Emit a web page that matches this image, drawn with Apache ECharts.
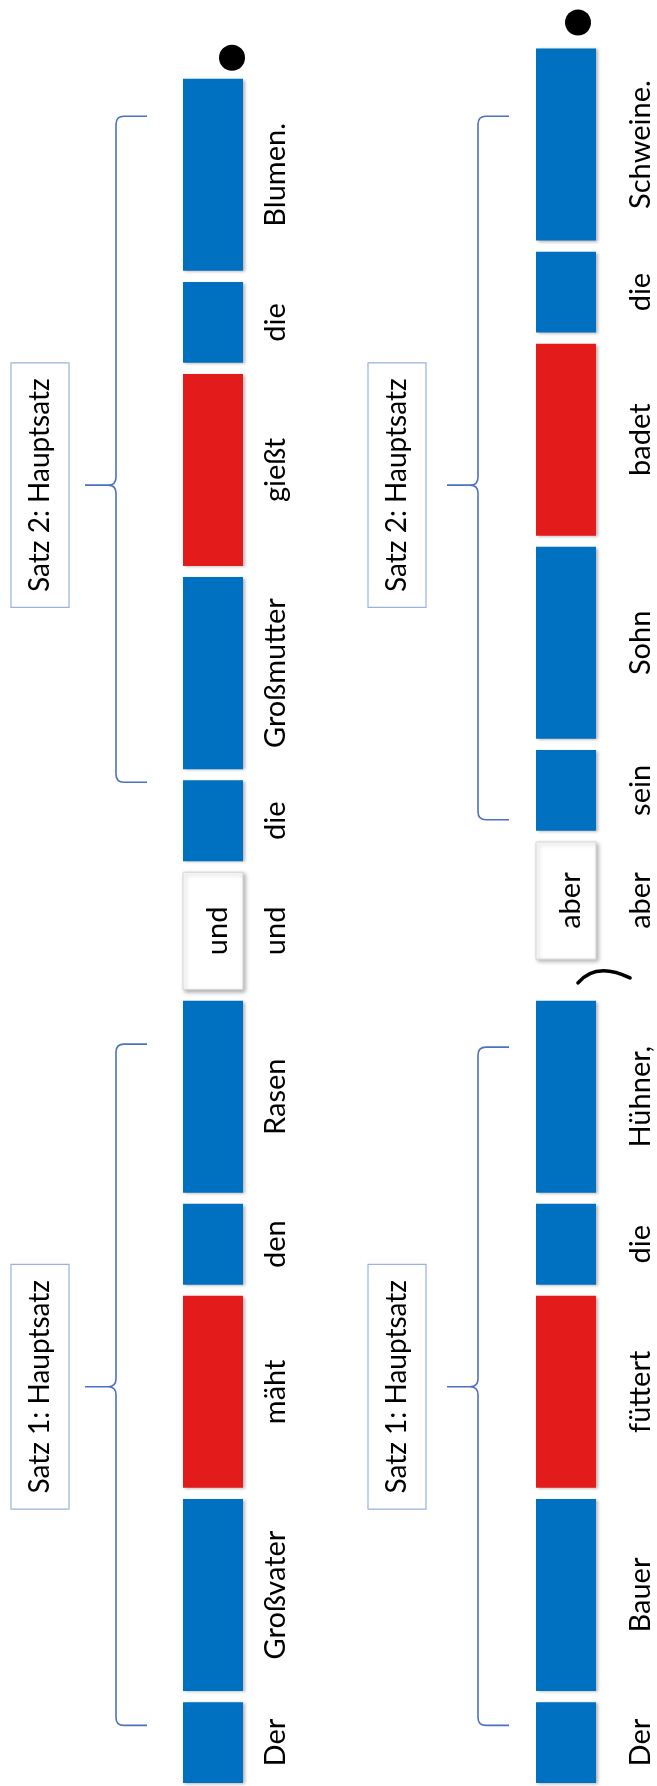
<!DOCTYPE html>
<html><head><meta charset="utf-8">
<script src="https://cdn.jsdelivr.net/npm/echarts@6/dist/echarts.min.js"></script>
<style>html,body{margin:0;padding:0;background:#fff}#c{width:657px;height:1786px}</style>
</head><body><div id="c"></div>
<script>
// ---------- data ----------
const columns = ['Beispiel 1', 'Beispiel 2'];
const words1 = ['Der', 'Großvater', 'mäht', 'den', 'Rasen', 'und', 'die', 'Großmutter', 'gießt', 'die', 'Blumen.'];
const kinds1 = ['A', 'N', 'V', 'A', 'N', 'K', 'A', 'N', 'V', 'A', 'N'];
const lens1 = [8, 19, 19, 8, 19, 11.6, 8, 19, 19, 8, 19];
const pauses1 = [0, 0, 0, 0, 0, 0, 0, 0, 0, 0, 0];
const words2 = ['Der', 'Bauer', 'füttert', 'die', 'Hühner,', 'aber', 'sein', 'Sohn', 'badet', 'die', 'Schweine.'];
const kinds2 = ['A', 'N', 'V', 'A', 'N', 'K', 'A', 'N', 'V', 'A', 'N'];
const lens2 = [8, 19, 19, 8, 19, 11.6, 8, 19, 19, 8, 19];
const pauses2 = [0, 0, 0, 0, 3, 0, 0, 0, 0, 0, 0];
const clauseTitles = ['Satz 1: Hauptsatz', 'Satz 2: Hauptsatz'];
const clauses1 = [[5.7, 73.1, 39.2], [99.0, 164.9, 128.4]];
const clauses2 = [[5.7, 72.8, 39.2], [95.3, 164.9, 128.4]];

// ---------- style ----------
const GAP = 1.1;
const BLUE = '#0070C0', RED = '#E31B1B';
const FONT = '29px Lato';
const TITLE_FONT = '28px Lato';
const BAR_W = 60;
const LABEL_OFF = [63, 75];
const BRACE_OFF = [-97, -88];
const BOX_OFF = [-173, -169];
const BOX_W = 58, BOX_H = 24.2;
const DOT_OFF = [[19, 21], [12, 26]];
const WORDS = [words1, words2], KINDS = [kinds1, kinds2];

function place(col, lens, pauses) {
  const out = []; let p = 0;
  lens.forEach((L, i) => { out.push([col, p, p + L, i]); p += L + GAP + pauses[i]; });
  return out;
}
const pos = [place(0, lens1, pauses1), place(1, lens2, pauses2)];
const PAUSES = [pauses1, pauses2];

function txt(x, y, text, font) {
  return {
    type: 'text', x: x, y: y, rotation: Math.PI / 2,
    style: { text: text, fill: '#000', font: font || FONT, align: 'center', verticalAlign: 'middle',
             textAlign: 'center', textVerticalAlign: 'middle' }
  };
}

function wordItem(params, api) {
  const col = api.value(0), s = api.value(1), e = api.value(2), i = api.value(3);
  const a = api.coord([col, s]), b = api.coord([col, e]);
  const cx = a[0], y0 = b[1], h = a[1] - b[1];
  const kind = KINDS[col][i];
  const children = [];
  if (kind === 'K') {
    children.push({ type: 'rect', shape: { x: cx - BAR_W / 2, y: y0, width: BAR_W, height: h },
      style: { fill: '#fff', stroke: '#d6d6d6', lineWidth: 1, shadowBlur: 4, shadowColor: 'rgba(0,0,0,0.3)', shadowOffsetX: 2, shadowOffsetY: 2 } });
    children.push(txt(cx + 5, y0 + h / 2, WORDS[col][i]));
  } else {
    children.push({ type: 'rect', shape: { x: cx - BAR_W / 2, y: y0, width: BAR_W, height: h },
      style: { fill: kind === 'V' ? RED : BLUE, shadowBlur: 3, shadowColor: 'rgba(0,0,0,0.3)', shadowOffsetX: 2, shadowOffsetY: 1 } });
  }
  children.push(txt(cx + LABEL_OFF[col], y0 + h / 2, WORDS[col][i]));
  return { type: 'group', children: children };
}

const braceData = [];
[clauses1, clauses2].forEach((cl, col) => cl.forEach((c, k) => braceData.push([col, c[0], c[1], c[2], k])));

function braceItem(params, api) {
  const col = api.value(0), from = api.value(1), to = api.value(2), cusp = api.value(3), k = api.value(4);
  const pb = api.coord([col, from]), pt = api.coord([col, to]), pc = api.coord([col, cusp]);
  const cx = pb[0];
  const v = cx + BRACE_OFF[col];
  const yb = pb[1], yt = pt[1], yc = pc[1];
  const H = 31, R = 8;
  const d = `M ${v + H} ${yb} L ${v + R} ${yb} Q ${v} ${yb} ${v} ${yb - R} L ${v} ${yc + R} Q ${v} ${yc} ${v - R} ${yc} L ${v - H} ${yc} ` +
            `M ${v - R} ${yc} Q ${v} ${yc} ${v} ${yc - R} L ${v} ${yt + R} Q ${v} ${yt} ${v + R} ${yt} L ${v + H} ${yt}`;
  const bTop = api.coord([col, cusp + BOX_H / 2])[1], bBot = api.coord([col, cusp - BOX_H / 2])[1];
  const bx = cx + BOX_OFF[col];
  return {
    type: 'group', children: [
      { type: 'path', shape: { pathData: d }, style: { fill: null, stroke: '#4A72C0', lineWidth: 1.6 } },
      { type: 'rect', shape: { x: bx - BOX_W / 2, y: bTop, width: BOX_W, height: bBot - bTop },
        style: { fill: '#fff', stroke: '#9AB3DE', lineWidth: 1.2 } },
      txt(bx, (bTop + bBot) / 2, clauseTitles[k], TITLE_FONT)
    ]
  };
}

const dotData = pos.map((p, col) => [col, p[p.length - 1][2]]);
function dotItem(params, api) {
  const col = api.value(0);
  const p = api.coord([col, api.value(1)]);
  return { type: 'circle', shape: { cx: p[0] + DOT_OFF[col][0], cy: p[1] - DOT_OFF[col][1], r: 13 }, style: { fill: '#000' } };
}

const pauseData = [];
PAUSES.forEach((ps, col) => ps.forEach((v, i) => { if (v > 0) pauseData.push([col, pos[col][i][2], pos[col][i + 1][1]]); }));
function pauseItem(params, api) {
  const col = api.value(0);
  const a = api.coord([col, api.value(1)]), b = api.coord([col, api.value(2)]);
  const cx = a[0], cy = (a[1] + b[1]) / 2;
  return { type: 'path', shape: { pathData: `M ${cx + 12} ${cy + 3} Q ${cx + 30} ${cy - 18.5} ${cx + 64} ${cy - 2}` },
    style: { fill: null, stroke: '#000', lineWidth: 3.6, lineCap: 'round' } };
}

// column axis: column 0 centred at x=213 px, column 1 at x=566 px (353 px apart)
const X_MIN = -213 / 353, X_MAX = (657 - 213) / 353;

const chart = echarts.init(document.getElementById('c'), null, { renderer: 'canvas' });
chart.setOption({
  animation: false,
  backgroundColor: '#fff',
  grid: { left: 0, right: 0, top: 4, bottom: 3 },
  xAxis: { type: 'value', min: X_MIN, max: X_MAX, show: false },
  yAxis: { type: 'value', min: 0, max: 176, show: false },
  series: [
    { type: 'custom', renderItem: braceItem, data: braceData, clip: false, silent: true, encode: { x: 0, y: [1, 2] } },
    { type: 'custom', renderItem: wordItem, data: pos[0], clip: false, silent: true, encode: { x: 0, y: [1, 2] } },
    { type: 'custom', renderItem: wordItem, data: pos[1], clip: false, silent: true, encode: { x: 0, y: [1, 2] } },
    { type: 'custom', renderItem: dotItem, data: dotData, clip: false, silent: true, encode: { x: 0, y: 1 } },
    { type: 'custom', renderItem: pauseItem, data: pauseData, clip: false, silent: true, encode: { x: 0, y: [1, 2] } }
  ]
});
</script></body></html>
